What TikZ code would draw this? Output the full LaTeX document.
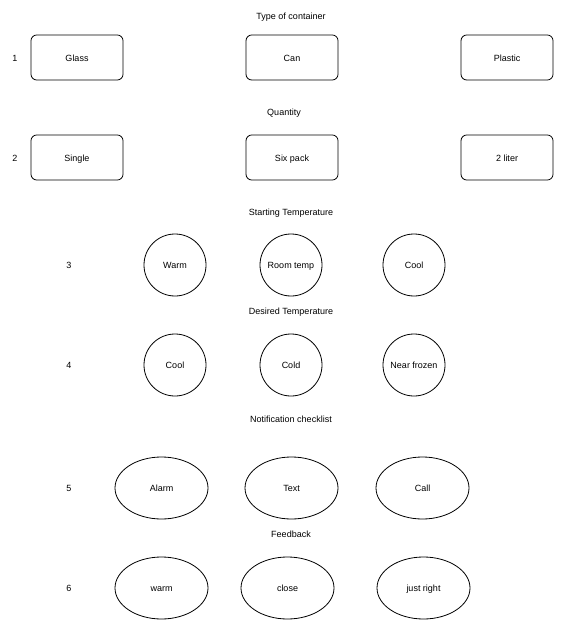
\documentclass[tikz,border=0pt]{standalone}
\usepackage{fontspec}
\setmainfont{Liberation Sans}
\usetikzlibrary{positioning, shapes.geometric}

\begin{document}
\begin{tikzpicture}[
        x=1pt, y=-1pt,
        node distance=123pt,
        font=\fontsize{9}{11}\selectfont,
        every node/.style={text height=8.8pt, text depth=1.6pt},
        optbox/.style={rectangle, draw=black, line width=0.8pt, rounded corners=2mm,
          minimum width=92pt, minimum height=45pt, inner sep=0pt, outer sep=0pt},
        tempcirc/.style={circle, draw=black, line width=0.8pt, minimum size=62pt, inner sep=0pt,
          outer sep=0pt},
        notifell/.style={ellipse, draw=black, line width=0.8pt, minimum width=93pt,
          minimum height=62pt, inner sep=0pt, outer sep=0pt},
        heading/.style={inner sep=0pt},
        rownum/.style={inner sep=0pt}
      ]
        \useasboundingbox (0,0) rectangle (575,628);

        % container and quantity
        \node[heading] (hcont) at (291,16) {Type of container};
        \node[rownum] (n1) at (15,58) {1};
        \node[optbox] (glass) at (77,57.5) {Glass};
        \node[optbox, right=of glass] (can) {Can};
        \node[optbox, right=of can] (plastic) {Plastic};

        \node[heading] (hqty) at (284,112) {Quantity};
        \node[rownum] (n2) at (15,158) {2};
        \node[optbox] (single) at (77,157.5) {Single};
        \node[optbox, right=of single] (sixpack) {Six pack};
        \node[optbox, right=of sixpack] (twoliter) {2 liter};

        % temperatures
        \node[heading] (hstart) at (291,212) {Starting Temperature};
        \node[rownum] (n3) at (69,265) {3};
        \node[tempcirc] (warm) at (175,265) {Warm};
        \node[tempcirc, right=54pt of warm] (roomtemp) {Room temp};
        \node[tempcirc, right=61pt of roomtemp] (coolstart) {Cool};

        \node[heading] (hdesired) at (291,311) {Desired Temperature};
        \node[rownum] (n4) at (69,365) {4};
        \node[tempcirc] (cooldes) at (175,365) {Cool};
        \node[tempcirc, right=54pt of cooldes] (cold) {Cold};
        \node[tempcirc, right=61pt of cold] (nearfrozen) {Near frozen};

        % notification and feedback
        \node[heading] (hnotif) at (291,419) {Notification checklist};
        \node[rownum] (n5) at (69,488) {5};
        \node[notifell] (alarm) at (161.5,488) {Alarm};
        \node[notifell, right=37pt of alarm] (text) {Text};
        \node[notifell, right=38pt of text] (call) {Call};

        \node[heading] (hfeed) at (291,534) {Feedback};
        \node[rownum] (n6) at (69,588) {6};
        \node[notifell] (fbwarm) at (161.5,588) {warm};
        \node[notifell, right=33pt of fbwarm] (fbclose) {close};
        \node[notifell, right=43pt of fbclose] (justright) {just right};
      \end{tikzpicture}
\end{document}
